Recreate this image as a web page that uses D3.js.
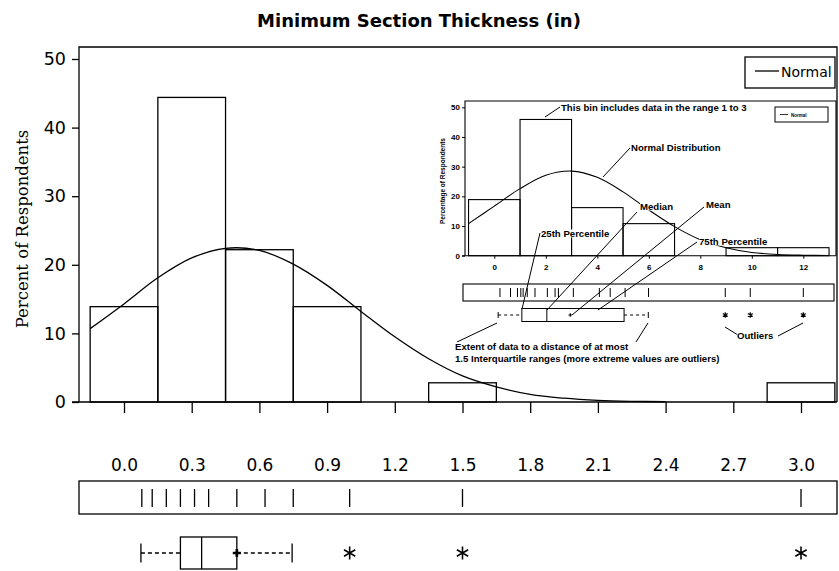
<!DOCTYPE html>
<html><head><meta charset="utf-8">
<script src="https://cdn.jsdelivr.net/npm/d3@7"></script>
<style>body{margin:0;background:#fff}svg{display:block}</style>
</head><body>
<script>
// ---------- main chart data ----------
const binCenters = [0.0, 0.3, 0.6, 0.9, 1.2, 1.5, 1.8, 2.1, 2.4, 2.7, 3.0];
const binPercents = [13.9, 44.4, 22.2, 13.9, 0, 2.8, 0, 0, 0, 0, 2.8];
const binWidth = 0.3;
const xTicks = [0.0, 0.3, 0.6, 0.9, 1.2, 1.5, 1.8, 2.1, 2.4, 2.7, 3.0];
const yTicks = [0, 10, 20, 30, 40, 50];
const normalX = [-0.15, 0, 0.15, 0.3, 0.45, 0.6, 0.75, 0.9, 1.05, 1.2, 1.35, 1.5, 1.65, 1.8, 1.95, 2.1, 2.25, 2.4];
const normalY = [10.7, 14.3, 18.1, 21.0, 22.4, 22.1, 20.1, 17.0, 13.2, 9.5, 6.3, 3.8, 2.2, 1.1, 0.55, 0.24, 0.1, 0.04];
const rugValues = [0.079, 0.125, 0.1875, 0.25, 0.3125, 0.375, 0.5, 0.625, 0.75, 1.0, 1.5, 3.0];
const boxStats = {lowWhisker: 0.075, q1: 0.25, median: 0.344, q3: 0.5, highWhisker: 0.745, mean: 0.5};
const outliers = [1.0, 1.5, 3.0];

// ---------- inset (explanatory example) data ----------
const inBinCenters = [0, 2, 4, 6, 8, 10, 12];
const inBinPercents = [18.9, 45.9, 16.2, 10.8, 0, 2.7, 2.7];
const inBinWidth = 2;
const inXTicks = [0, 2, 4, 6, 8, 10, 12];
const inYTicks = [0, 10, 20, 30, 40, 50];
const inNormalX = [-1, 0, 1, 2, 3, 4, 5, 6, 7, 8, 9, 10, 11, 12, 13];
const inNormalY = [10.8, 16.7, 22.6, 27.1, 28.5, 26.4, 21.5, 15.4, 9.8, 5.4, 2.7, 1.1, 0.4, 0.15, 0.05];
const inRugValues = [0.22, 0.63, 0.9, 1.03, 1.12, 1.28, 1.58, 2.06, 2.36, 2.49, 3.07, 4.08, 4.5, 5.08, 5.99, 8.97, 9.94, 12.0];
const inBoxStats = {lowWhisker: 0.15, q1: 1.07, median: 2.04, q3: 5.04, highWhisker: 5.98, mean: 2.95};
const inOutliers = [8.97, 9.94, 12.0];
const inNotes = [
  "This bin includes data in the range 1 to 3",
  "Normal Distribution",
  "Median",
  "Mean",
  "25th Percentile",
  "75th Percentile",
  "Extent of data to a distance of at most",
  "1.5 Interquartile ranges (more extreme values are outliers)",
  "Outliers"
];

const W = 839, H = 571;
const svg = d3.select("body").append("svg").attr("width", W).attr("height", H);
const ink = "#000";
const sans = "'Liberation Sans', Arial, sans-serif";
const wide = "'DejaVu Sans', sans-serif";

// ---------- main scales ----------
const x = d3.scaleLinear().domain([0, 3]).range([124, 801]);
const y = d3.scaleLinear().domain([0, 50]).range([402, 59]);
const frame = {left: 79, right: 837, top: 47, bottom: 402};

// title
svg.append("text").attr("x", 419).attr("y", 27).attr("text-anchor", "middle")
  .attr("font-family", wide).attr("font-weight", "bold").attr("font-size", 18)
  .text("Minimum Section Thickness (in)");

// frame (left, top, right) + baseline
svg.append("path").attr("fill", "none").attr("stroke", ink).attr("stroke-width", 1.3)
  .attr("d", `M${frame.left},${frame.bottom}V${frame.top}H${frame.right}V${frame.bottom}`);
svg.append("line").attr("x1", frame.left - 7).attr("x2", frame.right).attr("y1", frame.bottom).attr("y2", frame.bottom)
  .attr("stroke", ink).attr("stroke-width", 1.3);

// y axis
const yAxis = svg.append("g").attr("transform", `translate(${frame.left},0)`)
  .call(d3.axisLeft(y).tickValues(yTicks).tickSize(7).tickPadding(6).tickFormat(d3.format("d")));
yAxis.select(".domain").remove();
yAxis.selectAll("line").attr("stroke-width", 1.3);
yAxis.selectAll("text").attr("font-family", wide).attr("font-size", 17.5).attr("fill", ink);

// x axis
const xAxis = svg.append("g").attr("transform", `translate(0,${frame.bottom})`)
  .call(d3.axisBottom(x).tickValues(xTicks).tickSize(11).tickPadding(46).tickFormat(d3.format(".1f")));
xAxis.select(".domain").remove();
xAxis.selectAll("line").attr("stroke-width", 1.3);
xAxis.selectAll("text").attr("font-family", wide).attr("font-size", 17).attr("fill", ink);

// y label
svg.append("text").attr("transform", `translate(28,229) rotate(-90)`)
  .attr("text-anchor", "middle").attr("font-family", "'DejaVu Serif', serif")
  .attr("font-size", 16.5).text("Percent of Respondents");

// bars
const bars = binCenters.map((c, i) => ({c, p: binPercents[i]})).filter(d => d.p > 0);
svg.append("g").selectAll("rect").data(bars).join("rect")
  .attr("x", d => x(d.c - binWidth / 2)).attr("width", d => x(d.c + binWidth / 2) - x(d.c - binWidth / 2))
  .attr("y", d => y(d.p)).attr("height", d => y(0) - y(d.p))
  .attr("fill", "none").attr("stroke", ink).attr("stroke-width", 1.3);

// normal curve
svg.append("path").datum(normalX.map((v, i) => [v, normalY[i]]))
  .attr("fill", "none").attr("stroke", ink).attr("stroke-width", 1.3)
  .attr("d", d3.line().x(d => x(d[0])).y(d => y(d[1])).curve(d3.curveCatmullRom));

// legend
svg.append("rect").attr("x", 745).attr("y", 57).attr("width", 90).attr("height", 31)
  .attr("fill", "#fff").attr("stroke", ink).attr("stroke-width", 1.3);
svg.append("line").attr("x1", 755).attr("x2", 779).attr("y1", 71).attr("y2", 71).attr("stroke", ink).attr("stroke-width", 1.3);
svg.append("text").attr("x", 781).attr("y", 77).attr("font-family", wide).attr("font-size", 14).text("Normal");

// rug
svg.append("rect").attr("x", frame.left).attr("y", 481).attr("width", frame.right - frame.left).attr("height", 33)
  .attr("fill", "none").attr("stroke", ink).attr("stroke-width", 1.3);
svg.append("g").selectAll("line").data(rugValues).join("line")
  .attr("x1", d => x(d)).attr("x2", d => x(d)).attr("y1", 489).attr("y2", 507)
  .attr("stroke", ink).attr("stroke-width", 1.3);

// box plot
function drawBox(g, sx, st, outs, yc, bh, capH, starSize, sw, dash) {
  g.append("line").attr("x1", sx(st.lowWhisker)).attr("x2", sx(st.q1)).attr("y1", yc).attr("y2", yc)
    .attr("stroke", ink).attr("stroke-width", sw).attr("stroke-dasharray", dash);
  g.append("line").attr("x1", sx(st.q3)).attr("x2", sx(st.highWhisker)).attr("y1", yc).attr("y2", yc)
    .attr("stroke", ink).attr("stroke-width", sw).attr("stroke-dasharray", dash);
  [st.lowWhisker, st.highWhisker].forEach(v => g.append("line")
    .attr("x1", sx(v)).attr("x2", sx(v)).attr("y1", yc - capH / 2).attr("y2", yc + capH / 2)
    .attr("stroke", ink).attr("stroke-width", sw));
  g.append("rect").attr("x", sx(st.q1)).attr("y", yc - bh / 2).attr("width", sx(st.q3) - sx(st.q1)).attr("height", bh)
    .attr("fill", "none").attr("stroke", ink).attr("stroke-width", sw);
  g.append("line").attr("x1", sx(st.median)).attr("x2", sx(st.median)).attr("y1", yc - bh / 2).attr("y2", yc + bh / 2)
    .attr("stroke", ink).attr("stroke-width", sw);
  g.append("path").attr("transform", `translate(${sx(st.mean)},${yc})`)
    .attr("d", d3.symbol(d3.symbolCross, starSize * 0.3)()).attr("fill", ink);
  g.selectAll(".out").data(outs).join("path").attr("class", "out")
    .attr("transform", d => `translate(${sx(d)},${yc})`)
    .attr("d", d3.symbol(d3.symbolAsterisk, starSize)()).attr("fill", "none").attr("stroke", ink).attr("stroke-width", sw * 1.2);
}
drawBox(svg.append("g"), x, boxStats, outliers, 553, 32, 19, 120, 1.3, "4,3");

// ---------- inset ----------
const xi = d3.scaleLinear().domain([0, 12]).range([494.3, 803.3]);
const yi = d3.scaleLinear().domain([0, 50]).range([255.7, 107.3]);
const ins = svg.append("g");
function itext(xp, yp, str, size, anchor) {
  return ins.append("text").attr("x", xp).attr("y", yp).attr("font-family", sans).attr("font-weight", "bold")
    .attr("font-size", size || 9.6).attr("text-anchor", anchor || "start").text(str);
}
ins.append("path").attr("fill", "none").attr("stroke", ink).attr("stroke-width", 1.1)
  .attr("d", `M465,${yi(0)}V101H836V${yi(0)}`);
ins.append("line").attr("x1", 462).attr("x2", 836).attr("y1", yi(0)).attr("y2", yi(0)).attr("stroke", ink).attr("stroke-width", 1.1);
const iya = ins.append("g").attr("transform", "translate(465,0)")
  .call(d3.axisLeft(yi).tickValues(inYTicks).tickSize(3).tickPadding(2).tickFormat(d3.format("d")));
iya.select(".domain").remove();
iya.selectAll("text").attr("font-family", sans).attr("font-weight", "bold").attr("font-size", 8);
const ixa = ins.append("g").attr("transform", `translate(0,${yi(0)})`)
  .call(d3.axisBottom(xi).tickValues(inXTicks).tickSize(3).tickPadding(6).tickFormat(d3.format("d")));
ixa.select(".domain").remove();
ixa.selectAll("text").attr("font-family", sans).attr("font-weight", "bold").attr("font-size", 8);
ins.append("text").attr("transform", `translate(445,181) rotate(-90)`).attr("text-anchor", "middle")
  .attr("font-family", sans).attr("font-weight", "bold").attr("font-size", 6.5).text("Percentage of Respondents");

const ibars = inBinCenters.map((c, i) => ({c, p: inBinPercents[i]})).filter(d => d.p > 0);
ins.append("g").selectAll("rect").data(ibars).join("rect")
  .attr("x", d => xi(d.c - inBinWidth / 2)).attr("width", d => xi(d.c + inBinWidth / 2) - xi(d.c - inBinWidth / 2))
  .attr("y", d => yi(d.p)).attr("height", d => yi(0) - yi(d.p))
  .attr("fill", "none").attr("stroke", ink).attr("stroke-width", 1.1);
ins.append("path").datum(inNormalX.map((v, i) => [v, inNormalY[i]]))
  .attr("fill", "none").attr("stroke", ink).attr("stroke-width", 1.1)
  .attr("d", d3.line().x(d => xi(d[0])).y(d => yi(d[1])).curve(d3.curveCatmullRom));

// inset legend
ins.append("rect").attr("x", 775).attr("y", 107).attr("width", 53).attr("height", 15)
  .attr("fill", "#fff").attr("stroke", ink).attr("stroke-width", 1);
ins.append("line").attr("x1", 780).attr("x2", 788).attr("y1", 114.5).attr("y2", 114.5).attr("stroke", ink).attr("stroke-width", 0.8);
itext(791, 116.5, "Normal", 4.5);

// inset rug + box
ins.append("rect").attr("x", 463).attr("y", 284).attr("width", 371).attr("height", 17)
  .attr("fill", "none").attr("stroke", ink).attr("stroke-width", 1.1);
ins.append("g").selectAll("line").data(inRugValues).join("line")
  .attr("x1", d => xi(d)).attr("x2", d => xi(d)).attr("y1", 288).attr("y2", 297)
  .attr("stroke", ink).attr("stroke-width", 1);
drawBox(ins.append("g"), xi, inBoxStats, inOutliers, 315, 13, 6, 22, 1, "3,3");

// annotation pointers
const pointers = [
  [545, 117, 560, 107],
  [603, 177, 630, 148],
  [637, 212, 547, 310],
  [704, 207, 572, 315],
  [540, 233, 522, 309],
  [697, 242, 598, 310],
  [457, 342, 497, 323],
  [636, 342, 648, 323],
  [725, 327, 738, 335],
  [803, 323, 778, 336]
];
ins.append("g").selectAll("line").data(pointers).join("line")
  .attr("x1", d => d[0]).attr("y1", d => d[1]).attr("x2", d => d[2]).attr("y2", d => d[3])
  .attr("stroke", ink).attr("stroke-width", 1);
const notePos = [[561, 111], [631, 151], [640, 210], [706, 208], [541, 237], [699, 245], [455, 350], [455, 362], [737, 339]];
inNotes.forEach((t, i) => {
  const el = itext(notePos[i][0], notePos[i][1], t);
  const bb = el.node().getBBox();
  ins.insert("rect", () => el.node()).attr("x", bb.x).attr("y", bb.y + 1.5).attr("width", bb.width).attr("height", bb.height - 3).attr("fill", "#fff");
});
</script>
</body></html>
